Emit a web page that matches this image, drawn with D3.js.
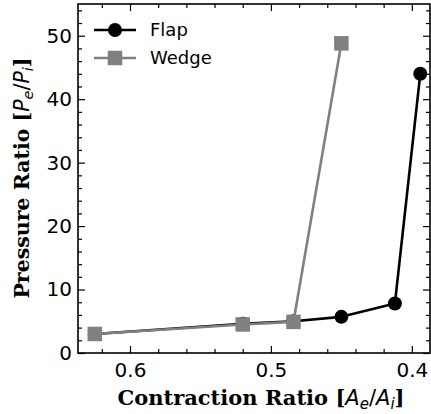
<!DOCTYPE html>
<html>
<head>
<meta charset="utf-8">
<script src="https://cdn.jsdelivr.net/npm/d3@7"></script>
<style>
  html, body { margin: 0; padding: 0; background: #fff; }
  svg { display: block; }
</style>
</head>
<body>
<svg id="chart" width="431" height="414"></svg>
<script>
// Contraction ratio (Ae/Ai) and pressure ratio (Pe/Pi) for each inlet type
const flapX = [0.625, 0.52, 0.484, 0.45, 0.412, 0.394];
const flapY = [3.0, 4.6, 5.0, 5.7, 7.8, 44.0];
const wedgeX = [0.625, 0.52, 0.484, 0.45];
const wedgeY = [3.0, 4.5, 4.9, 48.8];
const xTicks = [0.6, 0.5, 0.4];
const yTicks = [0, 10, 20, 30, 40, 50];
const seriesNames = ["Flap", "Wedge"];

const svg = d3.select("#chart");
const m = { left: 78, right: 430, top: 4, bottom: 353 };

// Reversed x axis: larger ratios on the left
const x = d3.scaleLinear().domain([0.6369, 0.3871]).range([m.left, m.right]);
const y = d3.scaleLinear().domain([0, 55]).range([m.bottom, m.top]);

const g = svg.append("g");

// Frame
g.append("rect")
  .attr("x", m.left).attr("y", m.top)
  .attr("width", m.right - m.left).attr("height", m.bottom - m.top)
  .attr("fill", "none").attr("stroke", "#000").attr("stroke-width", 1.6);

const xMinor = d3.range(0.38, 0.64, 0.02).map(v => +v.toFixed(2))
  .filter(v => v >= 0.387 && v <= 0.636 && !xTicks.some(t => Math.abs(t - v) < 1e-6));
const yMinor = d3.range(0, 56, 2).filter(v => v % 10 !== 0);

function tickStyle(sel) {
  sel.select(".domain").remove();
  sel.selectAll(".tick line").attr("stroke", "#000").attr("stroke-width", 1.2);
  sel.selectAll(".tick text").attr("font-family", "DejaVu Sans").attr("font-size", 20).attr("fill", "#000");
}

// Bottom axis with inward ticks
g.append("g").attr("transform", `translate(0,${m.bottom})`)
  .call(d3.axisBottom(x).tickValues(xTicks).tickFormat(d3.format(".1f")).tickSizeInner(-7).tickPadding(10))
  .call(tickStyle);
g.append("g").attr("transform", `translate(0,${m.bottom})`)
  .call(d3.axisBottom(x).tickValues(xMinor).tickFormat("").tickSizeInner(-4))
  .call(tickStyle);
// Top axis (ticks only)
g.append("g").attr("transform", `translate(0,${m.top})`)
  .call(d3.axisTop(x).tickValues(xTicks).tickFormat("").tickSizeInner(-7))
  .call(tickStyle);
g.append("g").attr("transform", `translate(0,${m.top})`)
  .call(d3.axisTop(x).tickValues(xMinor).tickFormat("").tickSizeInner(-4))
  .call(tickStyle);

// Left axis
g.append("g").attr("transform", `translate(${m.left},0)`)
  .call(d3.axisLeft(y).tickValues(yTicks).tickFormat(d3.format("d")).tickSizeInner(-7).tickPadding(6))
  .call(tickStyle);
g.append("g").attr("transform", `translate(${m.left},0)`)
  .call(d3.axisLeft(y).tickValues(yMinor).tickFormat("").tickSizeInner(-4))
  .call(tickStyle);
// Right axis (ticks only)
g.append("g").attr("transform", `translate(${m.right},0)`)
  .call(d3.axisRight(y).tickValues(yTicks).tickFormat("").tickSizeInner(-7))
  .call(tickStyle);
g.append("g").attr("transform", `translate(${m.right},0)`)
  .call(d3.axisRight(y).tickValues(yMinor).tickFormat("").tickSizeInner(-4))
  .call(tickStyle);

// Series
const line = d3.line().x(d => x(d[0])).y(d => y(d[1]));
const flap = flapX.map((v, i) => [v, flapY[i]]);
const wedge = wedgeX.map((v, i) => [v, wedgeY[i]]);

const plot = svg.append("g");
plot.append("path").datum(flap).attr("d", line)
  .attr("fill", "none").attr("stroke", "#000").attr("stroke-width", 2.6).attr("stroke-linejoin", "round");
plot.selectAll(".flapPt").data(flap).join("circle")
  .attr("cx", d => x(d[0])).attr("cy", d => y(d[1])).attr("r", 7).attr("fill", "#000");

plot.append("path").datum(wedge).attr("d", line)
  .attr("fill", "none").attr("stroke", "#808080").attr("stroke-width", 2.6).attr("stroke-linejoin", "round");
const sq = 14.5;
plot.selectAll(".wedgePt").data(wedge).join("rect")
  .attr("x", d => x(d[0]) - sq / 2).attr("y", d => y(d[1]) - sq / 2)
  .attr("width", sq).attr("height", sq).attr("fill", "#808080");

// Legend
const legend = svg.append("g");
const legendRows = [
  { name: seriesNames[0], color: "#000", shape: "circle", cy: 30 },
  { name: seriesNames[1], color: "#808080", shape: "square", cy: 58 }
];
legendRows.forEach(r => {
  legend.append("line").attr("x1", 94).attr("x2", 136).attr("y1", r.cy).attr("y2", r.cy)
    .attr("stroke", r.color).attr("stroke-width", 2.6);
  if (r.shape === "circle") {
    legend.append("circle").attr("cx", 115).attr("cy", r.cy).attr("r", 7).attr("fill", r.color);
  } else {
    legend.append("rect").attr("x", 115 - sq / 2).attr("y", r.cy - sq / 2).attr("width", sq).attr("height", sq).attr("fill", r.color);
  }
  legend.append("text").attr("x", 150).attr("y", r.cy).attr("dy", "0.36em")
    .attr("font-family", "DejaVu Sans").attr("font-size", 18).attr("fill", "#000").text(r.name);
});

// Axis labels: bold serif words with italic math subscripts
function mathLabel(sel, word, sym, sub1, sub2, ss) {
  sel.append("tspan").text(word + " [");
  const it = t => sel.append("tspan").attr("font-family", "DejaVu Sans").attr("font-weight", "normal").attr("font-style", "italic").text(t);
  it(sym);
  it(sub1).attr("font-size", ss).attr("dy", 3.5);
  sel.append("tspan").attr("font-family", "DejaVu Sans").attr("font-weight", "normal").attr("dy", -3.5).text("/");
  it(sym);
  it(sub2).attr("font-size", ss).attr("dy", 3.5);
  sel.append("tspan").attr("dy", -3.5).text("]");
}

const xl = svg.append("text").attr("x", 261).attr("y", 405).attr("text-anchor", "middle")
  .attr("font-family", "DejaVu Serif").attr("font-weight", "bold").attr("font-size", 21).attr("fill", "#000");
mathLabel(xl, "Contraction Ratio", "A", "e", "i", 15);

const yl = svg.append("text").attr("transform", "translate(29,178) rotate(-90)").attr("text-anchor", "middle")
  .attr("font-family", "DejaVu Serif").attr("font-weight", "bold").attr("font-size", 20.5).attr("fill", "#000");
mathLabel(yl, "Pressure Ratio", "P", "e", "i", 14.5);
</script>
</body>
</html>
